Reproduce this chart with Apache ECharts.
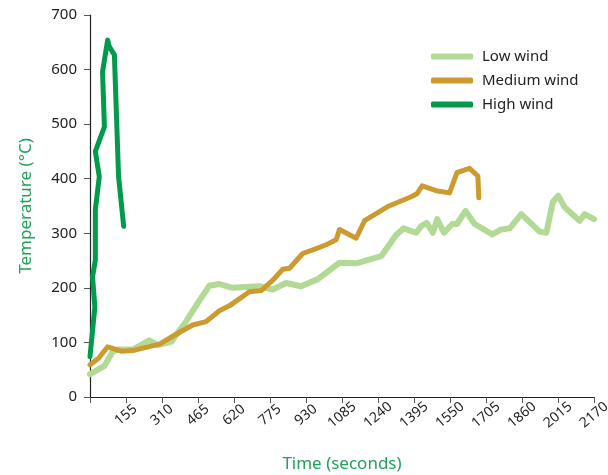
<!DOCTYPE html>
<html>
<head>
<meta charset="utf-8">
<script src="https://cdn.jsdelivr.net/npm/echarts@6/dist/echarts.min.js"></script>
<style>
  html, body { margin: 0; padding: 0; background: #fff; }
  #chart { width: 608px; height: 475px; }
</style>
</head>
<body>
<div id="chart"></div>
<script>
// 数据：时间(秒), 温度(°C)
var lowWind = [
    [0, 42], [62, 57], [97, 83], [119, 87], [184, 87], [255, 104], [291, 95], [349, 101],
    [413, 138], [464, 172], [514, 204], [557, 207], [614, 200], [729, 203], [787, 197],
    [844, 209], [909, 203], [981, 216], [1074, 246], [1146, 245], [1254, 258], [1318, 297],
    [1350, 309], [1404, 301], [1426, 313], [1450, 319], [1476, 301], [1495, 326], [1524, 301],
    [1560, 317], [1580, 317], [1617, 341], [1656, 317], [1732, 298], [1771, 307], [1807, 309],
    [1857, 335], [1936, 303], [1965, 301], [1993, 358], [2016, 369], [2043, 348], [2079, 334],
    [2108, 323], [2130, 335], [2170, 326]
];
var mediumWind = [
    [0, 59], [37, 71], [76, 92], [134, 84], [184, 85], [241, 91], [299, 97], [371, 115],
    [442, 132], [500, 138], [557, 158], [600, 167], [686, 193], [737, 195], [787, 214],
    [830, 234], [859, 236], [916, 263], [974, 272], [1017, 279], [1060, 288], [1074, 307],
    [1146, 291], [1182, 323], [1282, 349], [1383, 367], [1409, 373], [1430, 387], [1491, 378],
    [1548, 374], [1580, 411], [1634, 419], [1670, 405], [1674, 365]
];
var highWind = [
    [0, 74], [21, 165], [11, 220], [23, 251], [23, 343], [40, 404], [23, 450], [62, 495],
    [54, 596], [76, 654], [83, 642], [105, 627], [123, 404], [145, 313]
];
var seriesNames = ['Low wind', 'Medium wind', 'High wind'];
var seriesColors = ['#b2da95', '#cc9a2f', '#029a4b'];
var xMax = 2170, xStep = 155;
var yMax = 700, yStep = 100;

var chart = echarts.init(document.getElementById('chart'));
var font = 'Noto Sans';
var axisColor = '#222';
var nameColor = '#1ea35a';

chart.setOption({
    animation: false,
    textStyle: { fontFamily: font },
    grid: { left: 90, right: 14, top: 15, bottom: 78, containLabel: false, outerBoundsMode: 'none' },
    legend: {
        orient: 'vertical',
        left: 426,
        top: 44,
        itemWidth: 42,
        itemHeight: 6,
        itemGap: 9,
        icon: 'roundRect',
        data: seriesNames,
        textStyle: { fontSize: 15, color: axisColor, padding: [0, 0, 0, 4] }
    },
    xAxis: {
        type: 'value',
        min: 0,
        max: xMax,
        interval: xStep,
        name: 'Time (seconds)',
        nameLocation: 'middle',
        nameGap: 59,
        nameTextStyle: { color: nameColor, fontSize: 17 },
        axisLine: { lineStyle: { color: axisColor, width: 1.2 } },
        axisTick: { length: 6, lineStyle: { color: '#555' } },
        splitLine: { show: false },
        axisLabel: {
            rotate: 40,
            align: 'center',
            verticalAlign: 'middle',
            margin: 18,
            fontSize: 14,
            color: axisColor,
            formatter: function (v) { return v === 0 ? '' : v; }
        }
    },
    yAxis: {
        type: 'value',
        min: 0,
        max: yMax,
        interval: yStep,
        name: 'Temperature (°C)',
        nameLocation: 'middle',
        nameGap: 55,
        nameTextStyle: { color: nameColor, fontSize: 17 },
        axisLine: { show: true, lineStyle: { color: axisColor, width: 1.2 } },
        axisTick: { show: true, length: 6, lineStyle: { color: '#555' } },
        splitLine: { show: false },
        axisLabel: { fontSize: 15, color: axisColor, margin: 13 }
    },
    series: [
        {
            name: seriesNames[0], type: 'line', data: lowWind, showSymbol: false,
            color: seriesColors[0], lineStyle: { width: 6, color: seriesColors[0], join: 'round', cap: 'round' }
        },
        {
            name: seriesNames[1], type: 'line', data: mediumWind, showSymbol: false,
            color: seriesColors[1], lineStyle: { width: 5, color: seriesColors[1], join: 'round', cap: 'round' }
        },
        {
            name: seriesNames[2], type: 'line', data: highWind, showSymbol: false,
            color: seriesColors[2], lineStyle: { width: 5, color: seriesColors[2], join: 'round', cap: 'round' }
        }
    ]
});

window.addEventListener('resize', function () {
    chart.resize();
});
</script>
</body>
</html>
